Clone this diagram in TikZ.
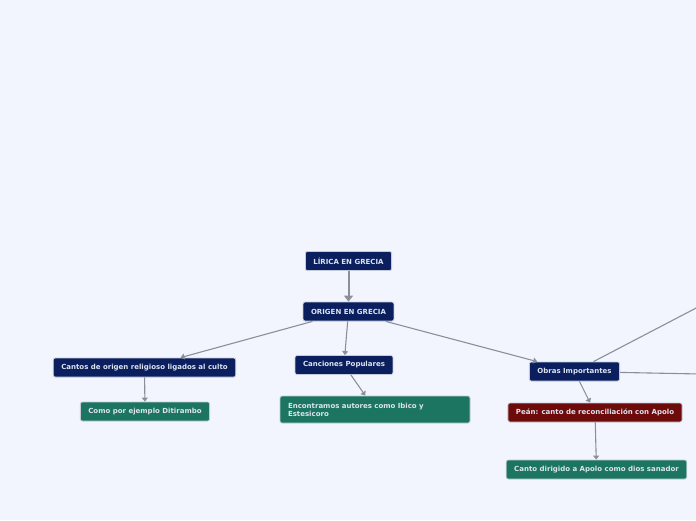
\documentclass[tikz,border=0pt]{standalone}
\usepackage{fontspec}
\setmainfont{DejaVu Sans}
\usepackage{xcolor}
\usetikzlibrary{arrows.meta, positioning}
\definecolor{bgpage}{HTML}{F2F5FE}
\definecolor{navy}{HTML}{0B1F5E}
\definecolor{teal}{HTML}{1B7561}
\definecolor{maroon}{HTML}{6E0A0A}
\definecolor{linkgray}{HTML}{8A8F99}
\definecolor{boxtext}{HTML}{DDE4F0}
\definecolor{boxline}{HTML}{C3CAD8}

\begin{document}
\begin{tikzpicture}[
    x=1pt, y=-1pt,
    topic/.style={draw=boxline, line width=0.8pt, rounded corners=2pt, minimum height=19pt,
                  inner xsep=8pt, text=boxtext, font=\fontsize{7}{8.2}\selectfont\bfseries},
    main/.style={topic, fill=navy},
    detail/.style={topic, fill=teal},
    note/.style={topic, fill=maroon},
    link/.style={-{Triangle[length=4pt, width=6pt]}, draw=linkgray, line width=1.1pt},
    trunk/.style={-{Triangle[length=6pt, width=9pt]}, draw=linkgray, line width=2pt},
    branch/.style={draw=linkgray, line width=1.1pt}
]
    \useasboundingbox (0,0) rectangle (696,520);

    % Background
    \fill[bgpage] (0,0) rectangle (696,520);

    % Title
    \node[main] (lirica) at (348.5,261) {LÍRICA EN GRECIA};
    \node[main] (origen) at (348.5,311.5) {ORIGEN EN GRECIA};

    % Left branch
    \node[main] (cantos) at (144.5,367.5) {Cantos de origen religioso ligados al culto};
    \node[detail] (ditirambo) at (145,411.5) {Como por ejemplo Ditirambo};

    % Middle branch
    \node[main] (canciones) at (344,365) {Canciones Populares};
    \node[detail, minimum height=27pt, text width=174pt, align=left] (autores) at (375,409.5)
        {Encontramos autores como Ibico y\\Estesicoro};

    % Right branch
    \node[main] (obras) at (574.5,371.5) {Obras Importantes};
    \node[note] (pean) at (595,412.5) {Peán: canto de reconciliación con Apolo};
    \node[detail] (sanador) at (596.5,469.5) {Canto dirigido a Apolo como dios sanador};

    % Branches leaving the page
    \coordinate (offup) at (700,306);
    \coordinate (offright) at (700,374);

    % Arrows
    \draw[trunk] (lirica) -- (origen);
    \draw[link] (origen) -- (cantos);
    \draw[link] (origen) -- (canciones);
    \draw[link] (origen) -- (obras);
    \draw[link] (cantos) -- (ditirambo);
    \draw[link] (canciones) -- (autores);
    \draw[link] (obras) -- (pean);
    \draw[link] (pean) -- (sanador);
    \draw[branch] (obras) -- (offup);
    \draw[branch] (obras) -- (offright);
\end{tikzpicture}
\end{document}
